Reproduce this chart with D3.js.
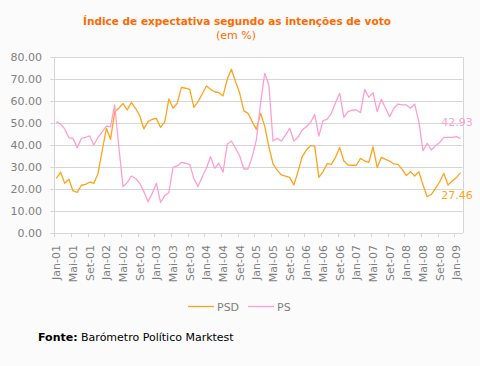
<!DOCTYPE html>
<html>
<head>
<meta charset="utf-8">
<script src="https://cdn.jsdelivr.net/npm/d3@7"></script>
<style>
  body { margin: 0; background: #fbfbfb; }
  svg { display: block; font-family: "DejaVu Sans", Verdana, sans-serif; }
</style>
</head>
<body>
<div id="chart"></div>
<script>
const monthNames = ['Jan', 'Fev', 'Mar', 'Abr', 'Mai', 'Jun', 'Jul', 'Ago', 'Set', 'Out', 'Nov', 'Dez'];
const yearsShort = ['01', '02', '03', '04', '05', '06', '07', '08', '09'];
const yTicks = [0, 10, 20, 30, 40, 50, 60, 70, 80];

const psd = [
  24.8, 27.6, 22.6, 24.4, 19.1, 18.5, 21.7, 22.1, 23.2, 22.6, 27.1, 37.5,
  47.6, 42.6, 55.2, 56.7, 58.9, 55.9, 59.4, 56.7, 53.3, 47.3, 50.6, 51.7,
  52.1, 48.0, 50.4, 61.0, 56.7, 58.9, 66.2, 65.8, 65.3, 57.1, 59.7, 63.2,
  66.8, 65.3, 64.2, 63.8, 62.3, 69.8, 74.4, 68.8, 63.5, 55.5, 54.4, 50.6,
  47.1, 54.4, 48.6, 39.2, 31.4, 28.6, 26.4, 25.9, 25.3, 21.8, 27.9, 34.7,
  37.7, 39.7, 39.5, 25.3, 27.9, 31.5, 31.2, 34.4, 38.9, 32.7, 30.9, 30.8,
  30.8, 33.9, 32.7, 32.1, 39.2, 29.8, 34.4, 33.5, 32.7, 31.4, 31.2, 28.9,
  26.1, 27.9, 25.9, 27.9, 21.8, 16.5, 17.6, 20.3, 23.3, 27.1, 21.8, 23.6,
  25.2, 27.46
];
const ps = [
  50.6, 49.5, 47.3, 43.3, 43.0, 38.8, 43.0, 43.5, 44.1, 40.0, 43.5, 46.0,
  48.6, 48.3, 58.2, 39.0, 21.1, 22.9, 25.9, 24.8, 22.6, 18.8, 14.2, 18.0,
  22.6, 13.9, 17.0, 18.3, 29.8, 30.5, 32.1, 31.7, 31.2, 24.8, 21.1, 25.6,
  29.4, 34.7, 29.4, 31.7, 27.6, 40.3, 41.8, 38.5, 35.0, 29.1, 29.1, 34.7,
  42.3, 58.9, 72.6, 67.3, 41.8, 43.0, 41.8, 44.5, 47.6, 41.8, 43.5, 46.8,
  48.3, 50.2, 53.9, 44.0, 51.1, 51.8, 54.4, 59.2, 63.5, 52.6, 55.2, 55.9,
  55.9, 54.7, 65.3, 61.7, 63.8, 55.2, 60.8, 56.7, 52.9, 56.7, 58.6, 58.2,
  58.2, 56.7, 58.6, 50.6, 37.4, 40.8, 37.7, 39.7, 41.1, 43.5, 43.5, 43.5,
  43.8, 42.93
];

// categories Jan-01 .. Fev-09, one per value
const categories = [];
yearsShort.forEach(yy => monthNames.forEach(m => categories.push(m + '-' + yy)));
categories.length = psd.length;

const series = [
  { name: 'PSD', values: psd, color: '#ffa31a' },
  { name: 'PS', values: ps, color: '#ff9fd0' }
];

const width = 480, height = 366;
const plot = { left: 54.3, right: 462.6, top: 57, bottom: 233 };
const gridColor = '#d6d6d6';
const textColor = '#7f7f7f';

const svg = d3.select('#chart').append('svg')
  .attr('width', width)
  .attr('height', height);

const x = d3.scaleBand().domain(categories).range([plot.left, plot.right]).padding(0);
const y = d3.scaleLinear().domain([0, 80]).range([plot.bottom, plot.top]);
const cx = c => x(c) + x.bandwidth() / 2;

// plot background
svg.append('rect')
  .attr('x', plot.left).attr('y', plot.top)
  .attr('width', plot.right - plot.left).attr('height', plot.bottom - plot.top)
  .attr('fill', '#fff');

// title
svg.append('text')
  .attr('x', 237).attr('y', 25)
  .attr('text-anchor', 'middle')
  .attr('font-size', 10.5).attr('font-weight', 'bold')
  .attr('fill', '#ff6a00')
  .text('Índice de expectativa segundo as intenções de voto');
svg.append('text')
  .attr('x', 236).attr('y', 39)
  .attr('text-anchor', 'middle')
  .attr('font-size', 11)
  .attr('fill', '#ff6a00')
  .text('(em %)');

// gridlines + y labels
const yAxis = svg.append('g');
yAxis.selectAll('line.grid').data(yTicks).enter().append('line')
  .attr('x1', plot.left - 4).attr('x2', plot.right)
  .attr('y1', d => Math.round(y(d)) + 0.5).attr('y2', d => Math.round(y(d)) + 0.5)
  .attr('stroke', gridColor);
yAxis.selectAll('text').data(yTicks).enter().append('text')
  .attr('x', 42).attr('y', d => y(d) + 4)
  .attr('text-anchor', 'end')
  .attr('font-size', 11).attr('fill', textColor)
  .text(d => d3.format('.2f')(d));

// left and right borders
[plot.left, plot.right].forEach(px => {
  svg.append('line')
    .attr('x1', Math.round(px) + 0.5).attr('x2', Math.round(px) + 0.5)
    .attr('y1', plot.top).attr('y2', plot.bottom)
    .attr('stroke', gridColor);
});

// x ticks at category boundaries, labels at category centres
const labelled = categories.filter((c, i) => i % 4 === 0);
const xAxis = svg.append('g');
xAxis.selectAll('line').data(labelled).enter().append('line')
  .attr('x1', d => Math.round(x(d)) + 0.5).attr('x2', d => Math.round(x(d)) + 0.5)
  .attr('y1', plot.bottom).attr('y2', plot.bottom + 4)
  .attr('stroke', gridColor);
xAxis.selectAll('text').data(labelled).enter().append('text')
  .attr('transform', d => `translate(${cx(d) + 4},${plot.bottom + 12}) rotate(-90)`)
  .attr('text-anchor', 'end')
  .attr('font-size', 11).attr('fill', textColor)
  .text(d => d);

// lines
const line = d3.line()
  .x((d, i) => cx(categories[i]))
  .y(d => y(d));

svg.selectAll('path.series').data(series).enter().append('path')
  .attr('class', 'series')
  .attr('d', d => line(d.values))
  .attr('fill', 'none')
  .attr('stroke', d => d.color)
  .attr('stroke-width', 1.3)
  .attr('stroke-linejoin', 'round');

// end value labels
const last = categories.length - 1;
svg.append('text')
  .attr('x', 457).attr('y', y(ps[last]) - 13)
  .attr('text-anchor', 'middle').attr('font-size', 11)
  .attr('fill', series[1].color)
  .text(d3.format('.2f')(ps[last]));
svg.append('text')
  .attr('x', 457).attr('y', y(psd[last]) + 26)
  .attr('text-anchor', 'middle').attr('font-size', 11)
  .attr('fill', series[0].color)
  .text(d3.format('.2f')(psd[last]));

// legend
const legend = svg.append('g');
const legendPos = [188, 248];
series.forEach((s, i) => {
  const g = legend.append('g').attr('transform', `translate(${legendPos[i]},306)`);
  g.append('line').attr('x1', 0).attr('x2', 26).attr('y1', 0.5).attr('y2', 0.5)
    .attr('stroke', s.color).attr('stroke-width', 1.3);
  g.append('text').attr('x', 29).attr('y', 5)
    .attr('font-size', 11).attr('fill', textColor)
    .text(s.name);
});

// source
const src = svg.append('text').attr('x', 38).attr('y', 341)
  .attr('font-size', 11).attr('fill', '#000');
src.append('tspan').attr('font-weight', 'bold').text('Fonte:');
src.append('tspan').text(' Barómetro Político Marktest');
</script>
</body>
</html>
